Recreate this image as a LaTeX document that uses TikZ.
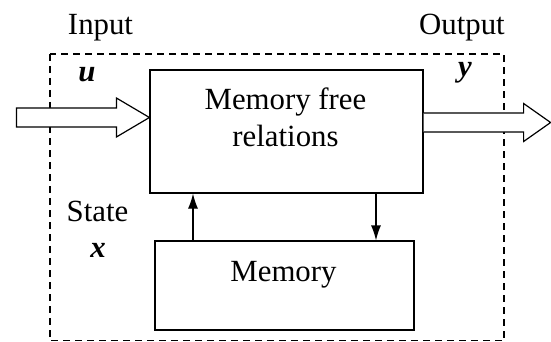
\documentclass[tikz,border=0pt]{standalone}
\usepackage{fontspec}
\setmainfont{Liberation Serif}
\usetikzlibrary{calc,arrows.meta}
\begin{document}
\begin{tikzpicture}[x=1pt,y=-1pt,
  box/.style={draw, line width=1.2pt, inner sep=0pt, rectangle},
  lbl/.style={font=\fontsize{30.8}{36}\selectfont, inner sep=0pt, anchor=base},
  fat/.style={draw, line width=1.2pt, fill=white, line join=miter},
  thinarrow/.style={draw, line width=1.2pt, -{Latex[length=15pt,width=10pt]}}]
\useasboundingbox (0,0) rectangle (551,342);
% dashed system border
\draw[line width=1.2pt, dash pattern=on 7pt off 5pt] (50,54) rectangle (504,340.8);
% blocks
\node[box, minimum width=273pt, minimum height=123pt] (mfr) at (286.5,131.5) {};
\node[box, minimum width=259pt, minimum height=89pt] (mem) at (284.5,285.5) {};
% texts
\node[lbl] (tin) at (100.5,34.3) {Input};
\node[lbl] (tout) at (462,34.5) {Output};
\node[lbl] (tu) at (87,81.7) {\textbf{\textit{u}}};
\node[lbl] (ty) at (465,76.7) {\textbf{\textit{y}}};
\node[lbl] (tmf1) at (285.5,110) {Memory free};
\node[lbl] (tmf2) at (285.5,146.7) {relations};
\node[lbl] (tst) at (97.5,221.7) {State};
\node[lbl] (tx) at (98,257.3) {\textbf{\textit{x}}};
\node[lbl] (tmem) at (283.5,281.7) {Memory};
% feedback arrows
\coordinate (ua) at (193,0);
\coordinate (da) at (376,0);
\draw[thinarrow] (ua |- mem.north) -- (ua |- mfr.south);
\draw[thinarrow] (da |- mfr.south) -- (da |- mem.north);
% input fat arrow
\coordinate (inT) at (mfr.west |- {(0,117.5)});
\draw[fat] ($(inT)+(-133,-9.5)$) -- ($(inT)+(-33,-9.5)$) -- ($(inT)+(-33,-19.5)$)
  -- (inT) -- ($(inT)+(-33,19.5)$) -- ($(inT)+(-33,9.5)$) -- ($(inT)+(-133,9.5)$) -- cycle;
% output fat arrow
\coordinate (outS) at (mfr.east |- {(0,122.5)});
\draw[fat] ($(outS)+(0,-9.5)$) -- ($(outS)+(100,-9.5)$) -- ($(outS)+(100,-19)$)
  -- ($(outS)+(127,0)$) -- ($(outS)+(100,19)$) -- ($(outS)+(100,9.5)$) -- ($(outS)+(0,9.5)$);
\end{tikzpicture}
\end{document}
